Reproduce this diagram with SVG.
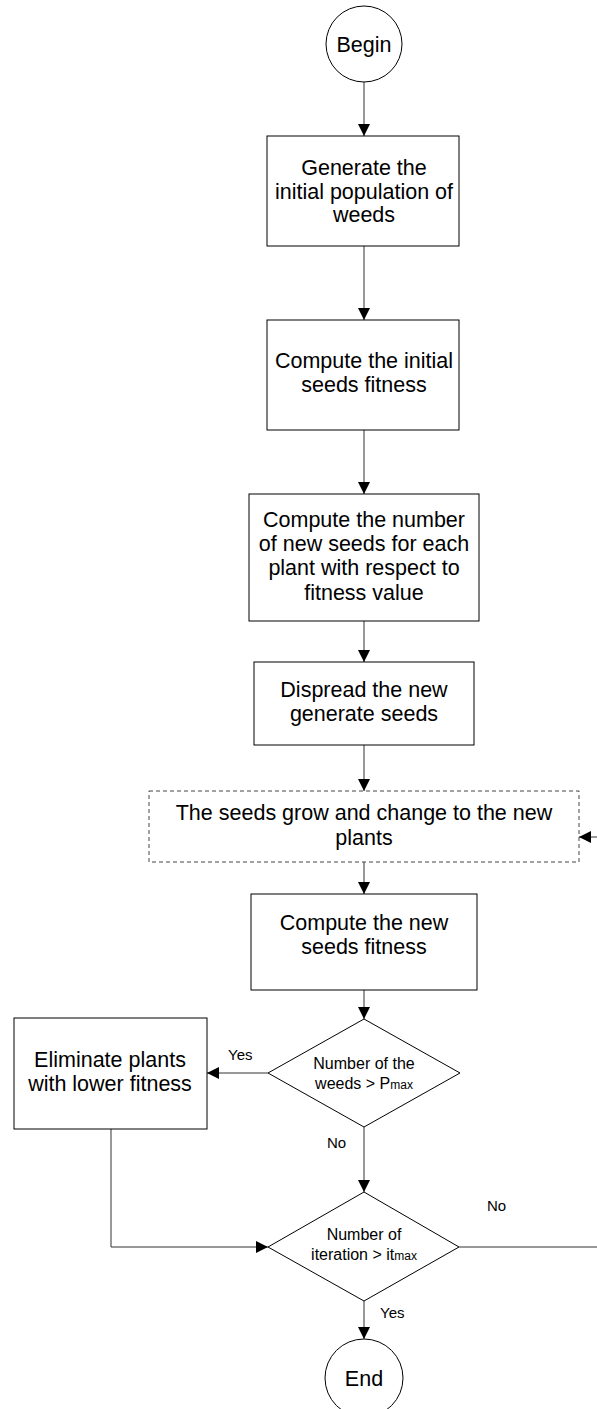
<svg xmlns="http://www.w3.org/2000/svg" width="597" height="1409" viewBox="0 0 597 1409">
<style>
.n{fill:#fff;stroke:#000;stroke-width:1}
.d{fill:#fff;stroke:#000;stroke-width:1;stroke-dasharray:4,3;stroke:#444}
.t{font-family:"Liberation Sans",Arial,sans-serif;font-size:21.5px;fill:#000;text-anchor:middle}
.s{font-family:"Liberation Sans",Arial,sans-serif;font-size:16px;fill:#000;text-anchor:middle}
.l{font-family:"Liberation Sans",Arial,sans-serif;font-size:15px;fill:#000}
.c{fill:none;stroke:#333;stroke-width:1}
</style>
<defs>
<marker id="a" markerWidth="12" markerHeight="12" refX="12" refY="6" orient="auto" markerUnits="userSpaceOnUse">
<path d="M0,0 L12,6 L0,12 Z" fill="#000"/>
</marker>
</defs>
<g id="connectors">
<line class="c" x1="364" y1="82" x2="364" y2="136" marker-end="url(#a)"/>
<line class="c" x1="364" y1="246" x2="364" y2="320" marker-end="url(#a)"/>
<line class="c" x1="364" y1="430" x2="364" y2="494" marker-end="url(#a)"/>
<line class="c" x1="364" y1="621" x2="364" y2="662" marker-end="url(#a)"/>
<line class="c" x1="364" y1="745" x2="364" y2="791" marker-end="url(#a)"/>
<line class="c" x1="364" y1="862" x2="364" y2="894" marker-end="url(#a)"/>
<line class="c" x1="364" y1="990" x2="364" y2="1019" marker-end="url(#a)"/>
<line class="c" x1="268" y1="1073" x2="207" y2="1073" marker-end="url(#a)"/>
<line class="c" x1="364" y1="1127" x2="364" y2="1192" marker-end="url(#a)"/>
<polyline class="c" points="111,1129 111,1247 268,1247" marker-end="url(#a)"/>
<polyline class="c" points="459,1247 602,1247 602,837 579,837" marker-end="url(#a)"/>
<line class="c" x1="364" y1="1301" x2="364" y2="1339" marker-end="url(#a)"/>
<text class="l" x="228" y="1060">Yes</text>
<text class="l" x="327" y="1148">No</text>
<text class="l" x="487" y="1211">No</text>
<text class="l" x="380" y="1318">Yes</text>
</g>
<g id="begin">
<circle class="n" cx="364" cy="44" r="38"/>
<text class="t" x="364" y="52">Begin</text>
</g>
<g id="gen">
<rect class="n" x="267" y="136" width="192" height="110"/>
<text class="t" x="364" y="175">Generate the</text>
<text class="t" x="364" y="199">initial population of</text>
<text class="t" x="364" y="222">weeds</text>
</g>
<g id="fit0">
<rect class="n" x="267" y="320" width="192" height="110"/>
<text class="t" x="364" y="368">Compute the initial</text>
<text class="t" x="364" y="392">seeds fitness</text>
</g>
<g id="num">
<rect class="n" x="249" y="494" width="230" height="127"/>
<text class="t" x="364" y="527">Compute the number</text>
<text class="t" x="364" y="551">of new seeds for each</text>
<text class="t" x="364" y="575">plant with respect to</text>
<text class="t" x="364" y="600">fitness value</text>
</g>
<g id="spread">
<rect class="n" x="254" y="662" width="220" height="83"/>
<text class="t" x="364" y="697">Dispread the new</text>
<text class="t" x="364" y="721">generate seeds</text>
</g>
<g id="grow">
<rect class="d" x="149" y="791" width="430" height="71"/>
<text class="t" x="364" y="820">The seeds grow and change to the new</text>
<text class="t" x="364" y="845">plants</text>
</g>
<g id="fit1">
<rect class="n" x="251" y="894" width="226" height="96"/>
<text class="t" x="364" y="930">Compute the new</text>
<text class="t" x="364" y="954">seeds fitness</text>
</g>
<g id="dec1">
<polygon class="n" points="364,1019 460,1073 364,1127 268,1073"/>
<text class="s" x="364" y="1069">Number of the</text>
<text class="s" x="364" y="1089">weeds &gt; P<tspan font-size="12">max</tspan></text>
</g>
<g id="elim">
<rect class="n" x="14" y="1018" width="193" height="111"/>
<text class="t" x="110" y="1067">Eliminate plants</text>
<text class="t" x="110" y="1091">with lower fitness</text>
</g>
<g id="dec2">
<polygon class="n" points="364,1192 459,1247 364,1301 268,1247"/>
<text class="s" x="364" y="1240">Number of</text>
<text class="s" x="364" y="1260">iteration &gt; it<tspan font-size="12">max</tspan></text>
</g>
<g id="end">
<circle class="n" cx="364" cy="1378" r="39"/>
<text class="t" x="364" y="1386">End</text>
</g>
</svg>
